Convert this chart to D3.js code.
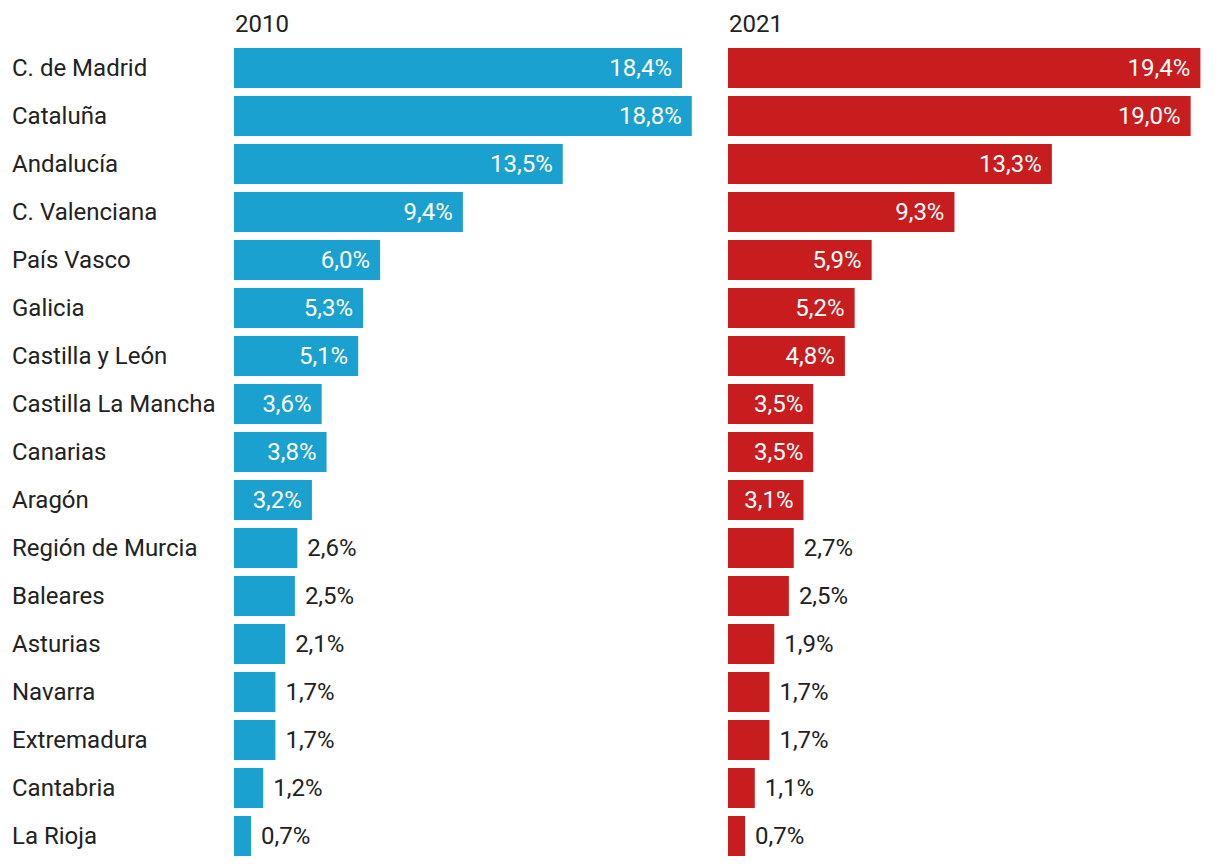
<!DOCTYPE html>
<html>
<head>
<meta charset="utf-8">
<script src="https://cdn.jsdelivr.net/npm/d3@7"></script>
<style>
  html, body { margin: 0; padding: 0; background: #fff; }
  svg text { font-family: Roboto, "Noto Sans", sans-serif; font-weight: 400; }
</style>
</head>
<body>
<svg id="chart" width="1220" height="866"></svg>
<script>
const regions = ["C. de Madrid","Cataluña","Andalucía","C. Valenciana","País Vasco","Galicia","Castilla y León","Castilla La Mancha","Canarias","Aragón","Región de Murcia","Baleares","Asturias","Navarra","Extremadura","Cantabria","La Rioja"];
const years = ["2010","2021"];
const values2010 = [18.4,18.8,13.5,9.4,6.0,5.3,5.1,3.6,3.8,3.2,2.6,2.5,2.1,1.7,1.7,1.2,0.7];
const values2021 = [19.4,19.0,13.3,9.3,5.9,5.2,4.8,3.5,3.5,3.1,2.7,2.5,1.9,1.7,1.7,1.1,0.7];
const colors = ["#1ba1cf","#c71d1f"];

const svg = d3.select("#chart");
const fontSize = 24;
const panelX = [234, 728];

const y = d3.scaleBand().domain(regions).range([44, 860]).paddingInner(1/6).paddingOuter(1/12);
const x = d3.scaleLinear().domain([0, 20]).range([0, 487]);
const fmt = v => d3.format(".1f")(v).replace(".", ",") + "%";

svg.append("g").selectAll("text").data(regions).join("text")
  .attr("x", 12)
  .attr("y", d => y(d) + y.bandwidth()/2)
  .attr("dy", "0.35em")
  .attr("font-size", fontSize)
  .attr("fill", "#222")
  .text(d => d);

[values2010, values2021].forEach((vals, i) => {
  const g = svg.append("g").attr("transform", `translate(${panelX[i]},0)`);
  g.append("text").attr("x", 1).attr("y", 32).attr("font-size", fontSize).attr("fill", "#222").text(years[i]);
  const rows = vals.map((v, j) => ({r: regions[j], v}));
  g.selectAll("rect").data(rows).join("rect")
    .attr("x", 0).attr("y", d => y(d.r))
    .attr("width", d => x(d.v)).attr("height", y.bandwidth())
    .attr("fill", colors[i]);
  g.selectAll("text.val").data(rows).join("text")
    .attr("class", "val")
    .attr("x", d => d.v >= 3 ? x(d.v) - 10 : x(d.v) + 10)
    .attr("y", d => y(d.r) + y.bandwidth()/2)
    .attr("dy", "0.35em")
    .attr("text-anchor", d => d.v >= 3 ? "end" : "start")
    .attr("font-size", fontSize)
    .attr("fill", d => d.v >= 3 ? "#fff" : "#222")
    .text(d => fmt(d.v));
});
</script>
</body>
</html>
